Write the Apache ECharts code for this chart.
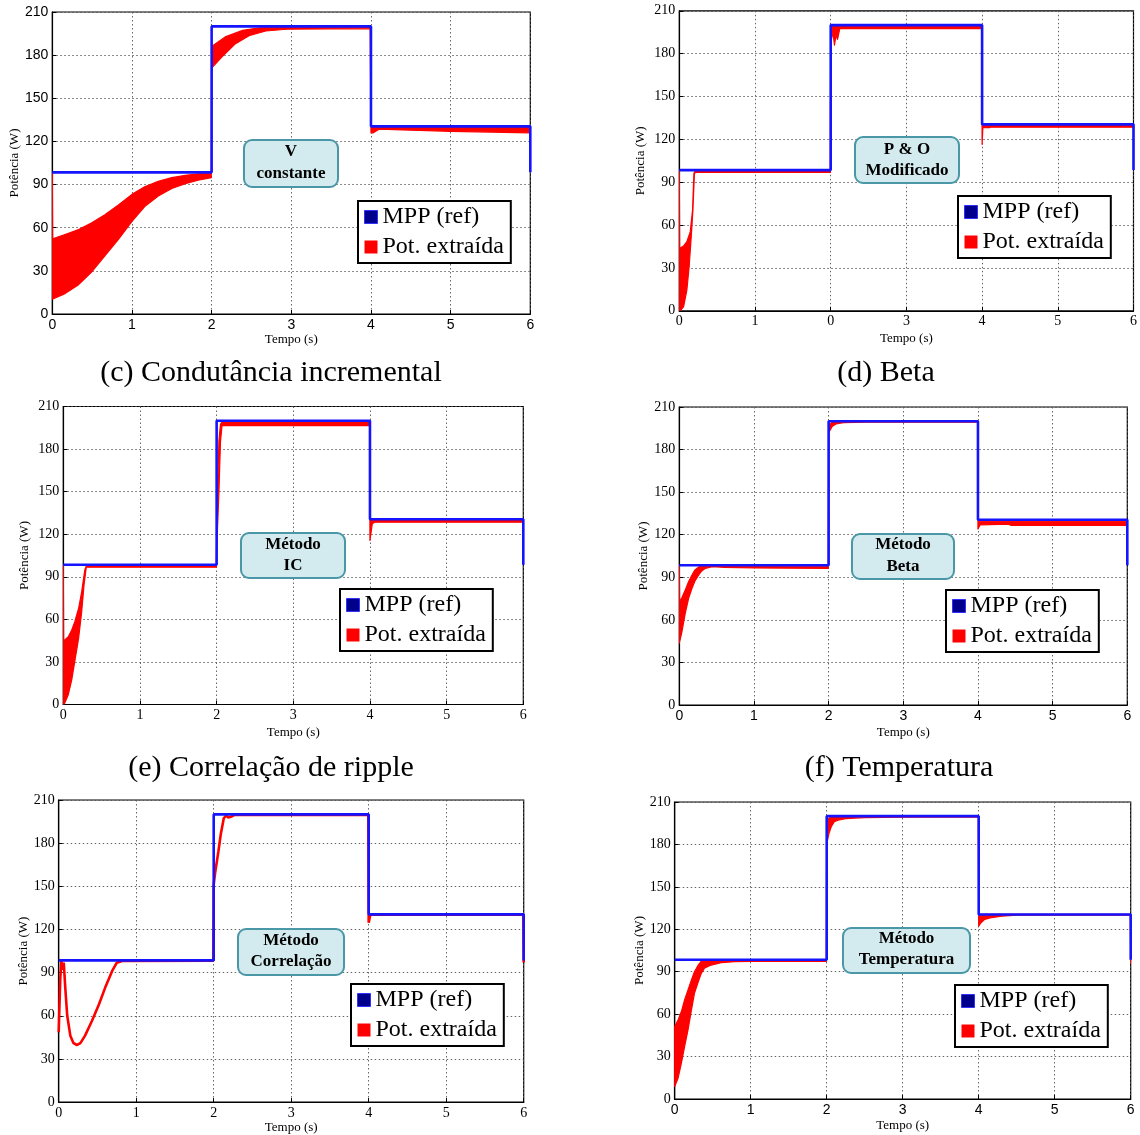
<!DOCTYPE html>
<html>
<head>
<meta charset="utf-8">
<script src="https://cdn.jsdelivr.net/npm/echarts@6/dist/echarts.min.js"></script>
<style>
  html, body { margin: 0; padding: 0; background: #fff; }
  #chart { width: 1140px; height: 1135px; }
</style>
</head>
<body>
<div id="chart"></div>
<script>
// ---- tick labels ----
const timeTicks   = ['0', '1', '2', '3', '4', '5', '6'];
const timeTicksPO = ['0', '1', '0', '3', '4', '5', '6'];

// ---- maximum power point reference (W) over time (s) ----
const mppTime  = [0, 2, 2, 4, 4, 6, 6];
const mppPower = [98.5, 98.5, 200, 200, 130.5, 130.5, 98.5];

// ---- extracted power: upper / lower envelope of the ripple band [t, P] ----
const vconstUpper = [[0,98],[0.005,52.3],[0.16,55.3],[0.33,58.7],[0.49,63.3],[0.66,69],[0.83,75.8],[1.0,83.2],[1.16,88.4],[1.33,92.3],[1.5,94.8],[1.67,96.4],[1.83,97.5],[1.995,98.2],[2.0,186],[2.17,192.7],[2.39,197.3],[2.6,199],[2.82,199.6],[3.99,199.6],[4.0,130],[6,130]];
const vconstLower = [[0,10.3],[0.16,14.2],[0.33,20.4],[0.49,29],[0.66,40.5],[0.83,51.9],[1.0,64.4],[1.16,74.7],[1.33,82],[1.5,87.3],[1.67,90.7],[1.83,93],[1.995,94.8],[2.0,171],[2.13,178.8],[2.3,188],[2.48,193.8],[2.68,196.8],[2.94,198],[3.5,198.3],[3.99,198.5],[4.0,126],[4.03,126],[4.1,128.5],[4.5,127.8],[5,127],[5.5,126.5],[6,126]];

const poModUpper = [[0,98],[0.005,43.7],[0.057,45.4],[0.1,48.4],[0.145,55.4],[0.175,70.6],[0.193,96.3],[0.21,97.8],[1.995,97.8],[2.0,199.5],[3.995,199.5],[4.0,130],[6,130]];
const poModLower = [[0,0],[0.013,0],[0.057,2.9],[0.1,14.5],[0.13,30.9],[0.158,52],[0.18,70.6],[0.2,96.3],[0.22,96.8],[1.995,96.8],[2.0,171],[2.01,190],[2.03,195],[2.05,186],[2.07,193],[2.09,190],[2.12,197.5],[3.995,197.5],[4.0,116.5],[4.01,128.2],[4.1,128.2],[4.11,128.5],[6,128.5]];

const icUpper = [[0,98],[0.005,44.8],[0.065,47.8],[0.11,52.5],[0.15,58.4],[0.2,67.8],[0.24,79.5],[0.28,94.7],[0.3,97.7],[1.995,97.7],[2.005,135],[2.02,165],[2.03,186],[2.05,197.5],[2.07,199],[3.995,199],[4.0,130],[6,130]];
const icLower = [[0,0],[0.013,0.3],[0.065,6.9],[0.11,17.4],[0.15,30.3],[0.2,46.7],[0.24,65.4],[0.27,84.1],[0.3,97],[0.32,96.8],[1.995,96.8],[2.01,122],[2.03,150],[2.05,185],[2.07,196.5],[3.995,196.5],[4.0,115.6],[4.03,127.3],[4.06,128.5],[6,128.5]];

const betaUpper = [[0,98],[0.005,72.9],[0.036,75.7],[0.08,81.1],[0.125,87],[0.17,91.6],[0.21,95.2],[0.26,97.3],[0.35,98.2],[0.44,98.4],[0.6,98],[1.995,97.8],[2.0,197],[2.05,199.5],[2.1,199.8],[3.995,199.8],[4.0,129.5],[6,129.5]];
const betaLower = [[0,43.6],[0.036,51.8],[0.08,64.7],[0.125,75.2],[0.17,82.3],[0.21,87.4],[0.26,91.6],[0.3,94.5],[0.35,96.3],[0.44,97.5],[0.6,97],[1.0,96.6],[1.995,96.2],[2.0,191.8],[2.05,196.4],[2.1,198],[2.2,199],[2.5,199.3],[3.995,199.3],[4.0,124],[4.03,127],[4.4,127.5],[4.45,126.5],[6,126.5]];

const corrPower = [[0,48.5],[0.02,85.4],[0.035,98],[0.05,92],[0.065,97],[0.086,78.5],[0.11,60],[0.15,46.2],[0.19,41],[0.237,39.7],[0.28,41],[0.34,46.2],[0.43,56.5],[0.52,68],[0.6,79.6],[0.69,91.2],[0.75,96.9],[0.82,98.1],[1.995,98.3],[2.0,151],[2.02,160],[2.06,174],[2.09,185.8],[2.13,197.3],[2.16,199.2],[2.19,197.8],[2.23,198.5],[2.27,199.6],[3.995,199.8],[4.0,124.6],[4.02,130.3],[5.995,130.3],[6,97]];

const tempUpper = [[0,51.2],[0.044,55.9],[0.088,61.8],[0.13,70],[0.175,77.1],[0.22,84.1],[0.26,90],[0.31,94.7],[0.35,97.5],[0.39,98.2],[0.48,98.5],[1.995,98.5],[2.0,197],[2.05,199.5],[2.1,200],[3.995,200],[4.0,130.5],[5.995,130.5],[6,97]];
const tempLower = [[0,8.8],[0.044,14.7],[0.088,25.3],[0.13,37],[0.175,48.8],[0.22,62.9],[0.26,74.7],[0.31,82.9],[0.35,88.8],[0.39,92.4],[0.48,94.7],[0.61,96.4],[0.79,97.1],[1.0,97.3],[1.995,97.3],[2.0,180],[2.03,187.8],[2.06,192.5],[2.1,196],[2.15,197.1],[2.25,198.3],[2.5,199],[3.0,199.3],[3.995,199.5],[4.0,122.3],[4.03,124.6],[4.08,127],[4.15,128.1],[4.3,129.3],[4.5,130],[5.995,130],[6,96]];

// ---- captions ----
const captions = ['(c) Condutância incremental', '(d) Beta', '(e) Correlação de ripple', '(f) Temperatura'];

const SERIF = '"Liberation Serif", "DejaVu Serif", serif';
const SANS  = '"Liberation Sans", Arial, sans-serif';
const BLUE = '#1414ff';
const RED = '#ff0000';

// layout of the six panels
const panels = [
  { grid: {left: 52.3, top: 12, width: 478, height: 302}, upper: vconstUpper, lower: vconstLower,
    xFont: SANS, yFont: SANS, ticks: timeTicks, yGap: 30, xGap: 17,
    box: {x: 244, y: 140, w: 94, h: 47, lines: ['V', 'constante'], cy: [152, 174]}, legend: {left: 358, top: 201} },
  { grid: {left: 679.3, top: 10.8, width: 455, height: 300}, upper: poModUpper, lower: poModLower,
    xFont: SERIF, yFont: SERIF, ticks: timeTicksPO, yGap: 32, xGap: 21,
    box: {x: 855, y: 137, w: 104, h: 46, lines: ['P & O', 'Modificado'], cy: [150, 171]}, legend: {left: 958, top: 196} },
  { grid: {left: 63.3, top: 406.5, width: 460, height: 298}, upper: icUpper, lower: icLower,
    xFont: SERIF, yFont: SERIF, ticks: timeTicks, yGap: 32, xGap: 22,
    box: {x: 241, y: 533, w: 104, h: 45, lines: ['Método', 'IC'], cy: [545, 565.5]}, legend: {left: 340, top: 589} },
  { grid: {left: 679.3, top: 407, width: 448, height: 298}, upper: betaUpper, lower: betaLower,
    xFont: SANS, yFont: SERIF, ticks: timeTicks, yGap: 28, xGap: 21.5,
    box: {x: 852, y: 534, w: 102, h: 45, lines: ['Método', 'Beta'], cy: [545, 566.5]}, legend: {left: 946, top: 590} },
  { grid: {left: 58.7, top: 800, width: 465, height: 303}, line: corrPower,
    xFont: SERIF, yFont: SERIF, ticks: timeTicks, yGap: 29, xGap: 17,
    box: {x: 238, y: 929, w: 106, h: 46, lines: ['Método', 'Correlação'], cy: [941, 962]}, legend: {left: 351, top: 984} },
  { grid: {left: 674.7, top: 802, width: 456, height: 297}, upper: tempUpper, lower: tempLower,
    xFont: SANS, yFont: SERIF, ticks: timeTicks, yGap: 28.5, xGap: 20,
    box: {x: 843, y: 928, w: 127, h: 45, lines: ['Método', 'Temperatura'], cy: [939, 960]}, legend: {left: 955, top: 985} }
];

const captionPos = [[271, 373], [886, 373], [271, 768], [899, 768]];

const grids = [], xAxes = [], yAxes = [], series = [], legends = [], graphics = [];
const mppData = mppTime.map((t, k) => [t, mppPower[k]]);

panels.forEach((p, i) => {
  grids.push(Object.assign({show: true, borderColor: '#000', borderWidth: 1.2, backgroundColor: 'transparent'}, p.grid));
  xAxes.push({
    type: 'value', gridIndex: i, min: 0, max: 6, interval: 1,
    name: 'Tempo (s)', nameLocation: 'middle', nameGap: p.xGap,
    nameTextStyle: {fontFamily: SERIF, fontSize: 13, color: '#000'},
    axisLine: {show: true, onZero: false, lineStyle: {color: '#000', width: 1.2}},
    axisTick: {show: true, inside: true, length: 4, lineStyle: {color: '#000'}},
    axisLabel: {fontFamily: p.xFont, fontSize: 14, color: '#000', margin: 4,
                formatter: v => p.ticks[Math.round(v)]},
    splitLine: {show: true, lineStyle: {color: '#555', width: 0.9, type: [1.5, 2.5]}}
  });
  yAxes.push({
    type: 'value', gridIndex: i, min: 0, max: 210, interval: 30,
    name: 'Potência (W)', nameLocation: 'middle', nameGap: p.yGap, nameRotate: 90,
    nameTextStyle: {fontFamily: SERIF, fontSize: 13, color: '#000'},
    axisLine: {show: true, onZero: false, lineStyle: {color: '#000', width: 1.2}},
    axisTick: {show: true, inside: true, length: 4, lineStyle: {color: '#000'}},
    axisLabel: {fontFamily: p.yFont, fontSize: 14, color: '#000', margin: 4},
    splitLine: {show: true, lineStyle: {color: '#555', width: 0.9, type: [1.5, 2.5]}}
  });

  if (p.line) {
    series.push({
      type: 'line', name: 'Pot. extraída', xAxisIndex: i, yAxisIndex: i,
      data: p.line, showSymbol: false, smooth: false, z: 2,
      lineStyle: {color: RED, width: 2.6}, itemStyle: {color: RED}
    });
  } else {
    const upper = p.upper, lower = p.lower;
    series.push({
      type: 'custom', name: 'Pot. extraída', xAxisIndex: i, yAxisIndex: i,
      coordinateSystem: 'cartesian2d', data: [[0, 0]], clip: true, z: 2,
      itemStyle: {color: RED},
      renderItem: (params, api) => {
        const pts = upper.map(d => api.coord(d))
          .concat(lower.slice().reverse().map(d => api.coord(d)));
        return {type: 'polygon', shape: {points: pts},
                style: {fill: RED, stroke: RED, lineWidth: 1.2, lineJoin: 'round'}};
      }
    });
  }
  series.push({
    type: 'line', name: 'MPP (ref)', xAxisIndex: i, yAxisIndex: i,
    data: mppData, showSymbol: false, z: 3,
    lineStyle: {color: BLUE, width: 2.6}, itemStyle: {color: BLUE}
  });

  legends.push({
    left: p.legend.left, top: p.legend.top, orient: 'vertical',
    backgroundColor: '#fff', borderColor: '#000', borderWidth: 2, borderRadius: 0,
    padding: [3, 7, 3, 6], itemGap: 4, itemWidth: 13, itemHeight: 13, icon: 'rect',
    selectedMode: false,
    textStyle: {fontFamily: SERIF, fontSize: 24, color: '#000', lineHeight: 26},
    data: [
      {name: 'MPP (ref)', itemStyle: {color: '#00008c', borderColor: '#3030ff', borderWidth: 1}},
      {name: 'Pot. extraída', itemStyle: {color: RED}}
    ]
  });

  const b = p.box;
  graphics.push({
    type: 'rect', shape: {x: b.x, y: b.y, width: b.w, height: b.h, r: 8},
    style: {fill: '#d3ebef', stroke: '#4a97a8', lineWidth: 2}, z: 100
  });
  b.lines.forEach((txt, k) => {
    graphics.push({
      type: 'text', x: b.x + b.w / 2, y: b.cy[k], z: 101,
      style: {text: txt, fill: '#000', font: 'bold 17px ' + SERIF, align: 'center', verticalAlign: 'middle'}
    });
  });
});

captions.forEach((c, k) => {
  graphics.push({
    type: 'text', x: captionPos[k][0], y: captionPos[k][1], z: 101,
    style: {text: c, fill: '#000', font: '30px ' + SERIF, align: 'center', verticalAlign: 'middle'}
  });
});

const chart = echarts.init(document.getElementById('chart'), null, {renderer: 'canvas'});
chart.setOption({
  animation: false,
  backgroundColor: '#fff',
  grid: grids,
  xAxis: xAxes,
  yAxis: yAxes,
  legend: legends,
  series: series,
  graphic: graphics
});
</script>
</body>
</html>
